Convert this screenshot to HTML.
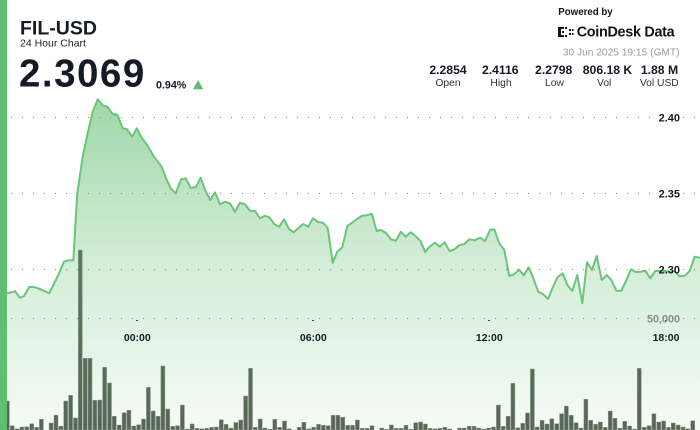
<!DOCTYPE html>
<html>
<head>
<meta charset="utf-8">
<style>
html,body{margin:0;padding:0;background:#fff;}
body{width:700px;height:430px;overflow:hidden;position:relative;}
svg{position:absolute;left:0;top:0;}
text{font-family:"Liberation Sans",Arial,sans-serif;}
</style>
</head>
<body>
<svg width="700" height="430" viewBox="0 0 700 430" xmlns="http://www.w3.org/2000/svg">
<defs>
<linearGradient id="fg" gradientUnits="userSpaceOnUse" x1="0" y1="99" x2="0" y2="430">
<stop offset="0" stop-color="#5fbd6e" stop-opacity="0.6"/>
<stop offset="0.5" stop-color="#5fbd6e" stop-opacity="0.27"/>
<stop offset="1" stop-color="#5fbd6e" stop-opacity="0.06"/>
</linearGradient>
</defs>
<rect width="700" height="430" fill="#fff"/>
<path fill="#586156" stroke="#8f988d" stroke-width="0.5" d="M5.4,401h4V430h-4Z M10.3,425.7h4V430h-4Z M15.1,428.7h4V430h-4Z M20,427h4V430h-4Z M24.8,426.7h4V430h-4Z M29.7,423.7h4V430h-4Z M34.6,427.3h4V430h-4Z M39.4,419.3h4V430h-4Z M49.1,423h4V430h-4Z M54,415.3h4V430h-4Z M58.9,426.3h4V430h-4Z M63.7,401h4V430h-4Z M68.6,395.3h4V430h-4Z M73.5,418h4V430h-4Z M78.3,250h4V430h-4Z M83.2,358.3h4V430h-4Z M88,358.3h4V430h-4Z M92.9,400.3h4V430h-4Z M97.8,400h4V430h-4Z M102.6,367.3h4V430h-4Z M107.5,383h4V430h-4Z M112.3,416.3h4V430h-4Z M117.2,425h4V430h-4Z M122.1,412.7h4V430h-4Z M126.9,410.3h4V430h-4Z M131.8,426h4V430h-4Z M136.6,424.7h4V430h-4Z M141.5,419h4V430h-4Z M146.4,387.3h4V430h-4Z M151.2,411h4V430h-4Z M156.1,416.3h4V430h-4Z M160.9,366h4V430h-4Z M165.8,409h4V430h-4Z M170.7,426.3h4V430h-4Z M175.5,425.7h4V430h-4Z M180.4,405h4V430h-4Z M185.3,429h4V430h-4Z M190.1,424h4V430h-4Z M195,428.3h4V430h-4Z M199.8,428.7h4V430h-4Z M204.7,428.3h4V430h-4Z M209.6,427.3h4V430h-4Z M214.4,427h4V430h-4Z M219.3,419.7h4V430h-4Z M224.1,424.3h4V430h-4Z M229,428h4V430h-4Z M233.9,422.5h4V430h-4Z M238.7,420h4V430h-4Z M243.6,396h4V430h-4Z M248.5,368.3h4V430h-4Z M253.3,427.3h4V430h-4Z M258.2,419h4V430h-4Z M263,428h4V430h-4Z M267.9,429.3h4V430h-4Z M272.8,419.3h4V430h-4Z M277.6,427.3h4V430h-4Z M282.5,421h4V430h-4Z M287.3,428.7h4V430h-4Z M297.1,427.3h4V430h-4Z M301.9,422.3h4V430h-4Z M306.8,428.7h4V430h-4Z M311.6,427.3h4V430h-4Z M316.5,424.3h4V430h-4Z M321.4,425.3h4V430h-4Z M326.2,425.7h4V430h-4Z M331.1,415.3h4V430h-4Z M336,415.3h4V430h-4Z M340.8,417.3h4V430h-4Z M345.7,425.3h4V430h-4Z M350.5,425.3h4V430h-4Z M355.4,420h4V430h-4Z M360.3,428.3h4V430h-4Z M365.1,428.3h4V430h-4Z M370,425.7h4V430h-4Z M379.7,428h4V430h-4Z M384.6,429.3h4V430h-4Z M389.4,425h4V430h-4Z M394.3,428.3h4V430h-4Z M399.1,428.3h4V430h-4Z M404,425.3h4V430h-4Z M408.9,429.3h4V430h-4Z M413.7,422.7h4V430h-4Z M418.6,422h4V430h-4Z M423.4,424h4V430h-4Z M428.3,428.3h4V430h-4Z M433.2,428.7h4V430h-4Z M438,428.3h4V430h-4Z M442.9,427.3h4V430h-4Z M447.8,429h4V430h-4Z M457.5,428h4V430h-4Z M462.3,428h4V430h-4Z M467.2,426.3h4V430h-4Z M472.1,426.3h4V430h-4Z M476.9,428h4V430h-4Z M481.8,429h4V430h-4Z M486.6,428h4V430h-4Z M491.5,427h4V430h-4Z M496.4,405h4V430h-4Z M501.2,426.3h4V430h-4Z M506.1,416.3h4V430h-4Z M510.9,383.3h4V430h-4Z M515.8,427.7h4V430h-4Z M520.7,423.3h4V430h-4Z M525.5,413h4V430h-4Z M530.4,369h4V430h-4Z M535.2,427h4V430h-4Z M540.1,420.3h4V430h-4Z M545,424h4V430h-4Z M549.8,418.7h4V430h-4Z M554.7,423.7h4V430h-4Z M559.6,413.7h4V430h-4Z M564.4,406h4V430h-4Z M569.3,415.3h4V430h-4Z M574.1,422.7h4V430h-4Z M579,428h4V430h-4Z M583.9,399.3h4V430h-4Z M588.7,420.3h4V430h-4Z M593.6,424.3h4V430h-4Z M598.4,422h4V430h-4Z M603.3,427.3h4V430h-4Z M608.2,411h4V430h-4Z M613,418.3h4V430h-4Z M617.9,428.3h4V430h-4Z M622.7,421.3h4V430h-4Z M627.6,426h4V430h-4Z M632.5,429h4V430h-4Z M637.3,368.3h4V430h-4Z M642.2,427.3h4V430h-4Z M647,425.7h4V430h-4Z M651.9,413.7h4V430h-4Z M656.8,422h4V430h-4Z M661.6,421h4V430h-4Z M666.5,427.3h4V430h-4Z M671.3,423h4V430h-4Z M676.2,425h4V430h-4Z M681.1,427h4V430h-4Z M685.9,428.7h4V430h-4Z M690.8,420.7h4V430h-4Z"/>
<path fill="url(#fg)" d="M0,293.3 L7.3,293.3 15,291.3 20,297.7 24,296 29.3,286.7 35,287.3 40,289 49.3,293.3 58.3,275 64,261.7 68.3,260.3 73.3,260.3 77.3,193.3 82.7,156.7 87.3,135 92.7,111.7 97.7,99.3 103.3,105.7 107.3,106.7 112.7,114 117.3,114.7 122.7,128.3 126.7,129 132.3,136.7 136.7,128.3 141.7,137.7 146.7,144.3 154,156.7 161.7,166.7 166,178.3 170.7,188.3 175.7,193.3 181,179.3 185.7,178.3 190.7,187.7 195.7,187.3 200.7,177.7 205,190 210.3,200 215,192.3 220,204.3 225,201.7 230,203.5 235,211.7 240,202.7 245,204.3 250,210.7 255,211 260,218.3 265,215.7 269.3,217.3 274.3,224 279.3,226.7 284,219.3 289,229 293.7,232.3 298.7,227.7 303.3,224 308.3,226.7 313,218.3 318,222 323,222.7 327.7,228 332.7,262.7 337.3,251.7 342.3,247.3 347.3,226 352,222.7 357,219 361.7,216 366.7,215.3 371.7,213.7 376.7,231 381.3,230 386.3,233.3 391,239.3 396,240.7 400.7,231.7 405.7,236.7 410.7,232.3 415.3,236 420.3,240.7 425.3,252.3 430,246.3 435,242.7 439.7,246.7 444.7,242.3 449.7,251.3 454.3,249.3 459.3,245.3 464.3,244 469.3,239.3 475,240.3 480,237.7 485,241 490,230 494.3,229.3 499.3,243.3 504.3,250 509.3,276 514,274.3 519,269.7 523.7,275.3 528.7,267.3 533.3,278.3 538.3,291.7 543,294 548,299 553,286.7 557.7,277 562.7,273.3 567.3,285 572.3,291 577.3,275 582.3,303.3 587,262.3 592,270 596.7,256 601.7,280 606.7,275 611.3,280 616.3,290.7 621.3,290.7 626,281 631,269.3 635.7,272 640.7,271.7 645.3,270.7 650.3,278.3 655.3,271 660,271 665,271 670,271.7 674.7,271.3 679.7,276.3 684.7,275.7 689.7,271 694.7,256.7 699.3,257.7 700,258 L700,430 L0,430 Z"/>
<g stroke="#8a8a8a" stroke-width="1" stroke-dasharray="1 10">
<line x1="11" y1="117.5" x2="652" y2="117.5"/>
<line x1="11" y1="193.5" x2="652" y2="193.5"/>
<line x1="11" y1="269.5" x2="652" y2="269.5"/>
<line x1="11" y1="318.5" x2="641" y2="318.5"/>
<line x1="683" y1="117.5" x2="700" y2="117.5"/>
<line x1="683" y1="193.5" x2="700" y2="193.5"/>
<line x1="683" y1="269.5" x2="700" y2="269.5"/>
<line x1="683" y1="318.5" x2="700" y2="318.5"/>
</g>
<path fill="#444" d="M136,320h2v1h-2Z M312,320h2v1h-2Z M488,320h2v1h-2Z M665,320h2v1h-2Z"/>
<polyline fill="none" stroke="#6cc47a" stroke-width="2" stroke-linejoin="round" points="0,293.3 7.3,293.3 15,291.3 20,297.7 24,296 29.3,286.7 35,287.3 40,289 49.3,293.3 58.3,275 64,261.7 68.3,260.3 73.3,260.3 77.3,193.3 82.7,156.7 87.3,135 92.7,111.7 97.7,99.3 103.3,105.7 107.3,106.7 112.7,114 117.3,114.7 122.7,128.3 126.7,129 132.3,136.7 136.7,128.3 141.7,137.7 146.7,144.3 154,156.7 161.7,166.7 166,178.3 170.7,188.3 175.7,193.3 181,179.3 185.7,178.3 190.7,187.7 195.7,187.3 200.7,177.7 205,190 210.3,200 215,192.3 220,204.3 225,201.7 230,203.5 235,211.7 240,202.7 245,204.3 250,210.7 255,211 260,218.3 265,215.7 269.3,217.3 274.3,224 279.3,226.7 284,219.3 289,229 293.7,232.3 298.7,227.7 303.3,224 308.3,226.7 313,218.3 318,222 323,222.7 327.7,228 332.7,262.7 337.3,251.7 342.3,247.3 347.3,226 352,222.7 357,219 361.7,216 366.7,215.3 371.7,213.7 376.7,231 381.3,230 386.3,233.3 391,239.3 396,240.7 400.7,231.7 405.7,236.7 410.7,232.3 415.3,236 420.3,240.7 425.3,252.3 430,246.3 435,242.7 439.7,246.7 444.7,242.3 449.7,251.3 454.3,249.3 459.3,245.3 464.3,244 469.3,239.3 475,240.3 480,237.7 485,241 490,230 494.3,229.3 499.3,243.3 504.3,250 509.3,276 514,274.3 519,269.7 523.7,275.3 528.7,267.3 533.3,278.3 538.3,291.7 543,294 548,299 553,286.7 557.7,277 562.7,273.3 567.3,285 572.3,291 577.3,275 582.3,303.3 587,262.3 592,270 596.7,256 601.7,280 606.7,275 611.3,280 616.3,290.7 621.3,290.7 626,281 631,269.3 635.7,272 640.7,271.7 645.3,270.7 650.3,278.3 655.3,271 660,271 665,271 670,271.7 674.7,271.3 679.7,276.3 684.7,275.7 689.7,271 694.7,256.7 699.3,257.7 700,258"/>
<rect x="0" y="0" width="7" height="430" fill="#5fbe6f"/>
<g font-size="11" font-weight="bold" fill="#141b27" text-anchor="end">
<text x="680" y="121.5">2.40</text>
<text x="680" y="197.5">2.35</text>
<text x="680" y="273.5">2.30</text>
</g>
<text x="680" y="322.3" font-size="10.8" font-weight="bold" fill="#8a8a8a" text-anchor="end">50,000</text>
<g font-size="10.5" font-weight="bold" fill="#141b27" text-anchor="middle">
<text x="137.3" y="341">00:00</text>
<text x="313.3" y="341">06:00</text>
<text x="489.3" y="341">12:00</text>
<text x="666" y="341">18:00</text>
</g>
<text x="20" y="34.3" font-size="19.5" font-weight="bold" fill="#141b27">FIL-USD</text>
<text x="20" y="46.7" font-size="10.5" fill="#222">24 Hour Chart</text>
<text x="19" y="86.5" font-size="38.5" font-weight="bold" fill="#141b27" letter-spacing="1.5">2.3069</text>
<text x="156" y="88.3" font-size="10.7" font-weight="bold" fill="#141b27">0.94%</text>
<polygon points="193,89.3 203.3,89.3 198.1,80" fill="#5fbe6f"/>
<text x="558.3" y="15" font-size="9.7" font-weight="bold" fill="#141414">Powered by</text>
<path fill="#141414" d="M558,27h3v10h-3Z M561,27h3v2h-3Z M561,35h3v2h-3Z M565,27h2v2h-2Z M565,35h2v2h-2Z M562,31h2v2h-2Z M569,29h2v2h-2Z M569,33h2v2h-2Z M572,29h1.5v2h-1.5Z M572,33h1.5v2h-1.5Z"/>
<text x="576.7" y="36.7" font-size="14.4" font-weight="bold" fill="#141414" letter-spacing="-0.3">CoinDesk Data</text>
<text x="679.5" y="55.5" font-size="10.2" fill="#9a9a9a" text-anchor="end">30 Jun 2025 19:15 (GMT)</text>
<g font-size="12.2" font-weight="bold" fill="#141b27" text-anchor="middle">
<text x="448" y="74">2.2854</text>
<text x="500.3" y="74">2.4116</text>
<text x="553.7" y="74">2.2798</text>
<text x="607.5" y="74">806.18 K</text>
<text x="659.5" y="74">1.88 M</text>
</g>
<g font-size="10.3" fill="#333" text-anchor="middle">
<text x="448" y="85.8">Open</text>
<text x="501" y="85.8">High</text>
<text x="554.5" y="85.8">Low</text>
<text x="604.2" y="85.8">Vol</text>
<text x="659.3" y="85.8">Vol USD</text>
</g>
</svg>
</body>
</html>
